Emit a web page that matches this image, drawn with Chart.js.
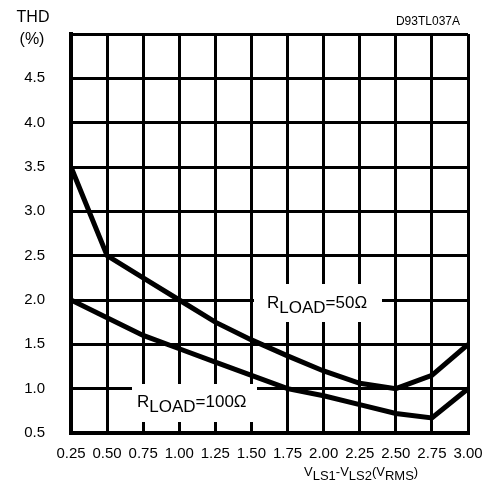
<!DOCTYPE html>
<html>
<head>
<meta charset="utf-8">
<script src="https://cdn.jsdelivr.net/npm/chart.js@4.4.0/dist/chart.umd.min.js"></script>
<style>
  html, body { margin: 0; padding: 0; background: #fff; }
  #wrap { width: 487px; height: 486px; }
</style>
</head>
<body>
<div id="wrap"><canvas id="chart"></canvas></div>
<script>
// values
const voltage = [0.25, 0.5, 0.75, 1.0, 1.25, 1.5, 1.75, 2.0, 2.25, 2.5, 2.75, 3.0];
const thd50 = [3.5, 2.5, 2.25, 2.0, 1.75, 1.55, 1.37, 1.2, 1.06, 1.0, 1.15, 1.5];
const thd100 = [2.0, 1.8, 1.6, 1.45, 1.3, 1.15, 1.0, 0.92, 0.82, 0.72, 0.67, 1.0];
const yTicks = [0.5, 1.0, 1.5, 2.0, 2.5, 3.0, 3.5, 4.0, 4.5, 5.0];

const FONT = "'Liberation Sans', Arial, sans-serif";

function toXY(xs, ys) {
  return xs.map((x, i) => ({ x: x, y: ys[i] }));
}

// text with a subscript part: parts = [[text, isSub], ...]
function drawSubText(ctx, parts, x, y, size, subSize, subDrop) {
  let cx = x;
  for (const p of parts) {
    ctx.font = (p[1] ? subSize : size) + 'px ' + FONT;
    ctx.fillText(p[0], cx, p[1] ? y + subDrop : y);
    cx += ctx.measureText(p[0]).width;
  }
}

const labelPlugin = {
  id: 'labels',
  beforeDatasetsDraw(chart) {
    const ctx = chart.ctx;
    ctx.save();
    // white boxes behind the curve labels
    ctx.fillStyle = '#fff';
    ctx.fillRect(254, 284, 128, 38);
    ctx.fillRect(132, 384, 125, 38);
    ctx.fillStyle = '#000';
    ctx.textBaseline = 'alphabetic';
    ctx.textAlign = 'left';
    drawSubText(ctx, [['R', false], ['LOAD', true], ['=50\u03A9', false]], 267, 308, 17, 17, 5);
    drawSubText(ctx, [['R', false], ['LOAD', true], ['=100\u03A9', false]], 137, 407, 17, 17, 5);
    ctx.restore();
  },
  afterDraw(chart) {
    const ctx = chart.ctx;
    ctx.save();
    ctx.fillStyle = '#000';
    ctx.textBaseline = 'middle';
    ctx.textAlign = 'center';
    ctx.font = '16px ' + FONT;
    ctx.fillText('THD', 33, 18);
    ctx.fillText('(%)', 32, 40);
    ctx.textAlign = 'right';
    ctx.font = '12px ' + FONT;
    ctx.fillText('D93TL037A', 460, 22);
    ctx.textAlign = 'left';
    ctx.textBaseline = 'alphabetic';
    drawSubText(ctx, [['V', false], ['LS1', true], ['-V', false], ['LS2', true], ['(V', false], ['RMS', true], [')', false]], 304, 476, 13, 13, 4);
    ctx.restore();
  }
};

new Chart(document.getElementById('chart'), {
  type: 'line',
  data: {
    datasets: [
      { label: '50', data: toXY(voltage, thd50), borderColor: '#000', borderWidth: 5, pointRadius: 0, tension: 0, fill: false },
      { label: '100', data: toXY(voltage, thd100), borderColor: '#000', borderWidth: 5, pointRadius: 0, tension: 0, fill: false }
    ]
  },
  options: {
    responsive: true,
    maintainAspectRatio: false,
    animation: false,
    devicePixelRatio: 1,
    layout: { padding: { left: 0, top: 34, right: 19, bottom: 0 } },
    plugins: { legend: { display: false }, tooltip: { enabled: false } },
    scales: {
      x: {
        type: 'linear',
        min: 0.25,
        max: 3.0,
        afterBuildTicks(scale) {
          scale.ticks = voltage.map(v => ({ value: v }));
        },
        afterFit(scale) {
          scale.height = 53;
          scale.paddingLeft = 0;
          scale.paddingRight = 0;
        },
        grid: { color: '#000', lineWidth: 3, drawTicks: false },
        border: { color: '#000', width: 4 },
        ticks: {
          color: '#000',
          font: { family: FONT, size: 15 },
          padding: 12,
          maxRotation: 0,
          autoSkip: false,
          callback: v => v.toFixed(2)
        }
      },
      y: {
        min: 0.5,
        max: 5.0,
        afterBuildTicks(scale) {
          scale.ticks = yTicks.map(v => ({ value: v }));
        },
        afterFit(scale) {
          scale.width = 71;
          scale.paddingTop = 0;
          scale.paddingBottom = 0;
        },
        grid: { color: '#000', lineWidth: 3, drawTicks: false },
        border: { color: '#000', width: 4 },
        ticks: {
          color: '#000',
          font: { family: FONT, size: 15 },
          padding: 26,
          callback: v => (v === 5.0 ? '' : v.toFixed(1))
        }
      }
    }
  },
  plugins: [labelPlugin]
});
</script>
</body>
</html>
